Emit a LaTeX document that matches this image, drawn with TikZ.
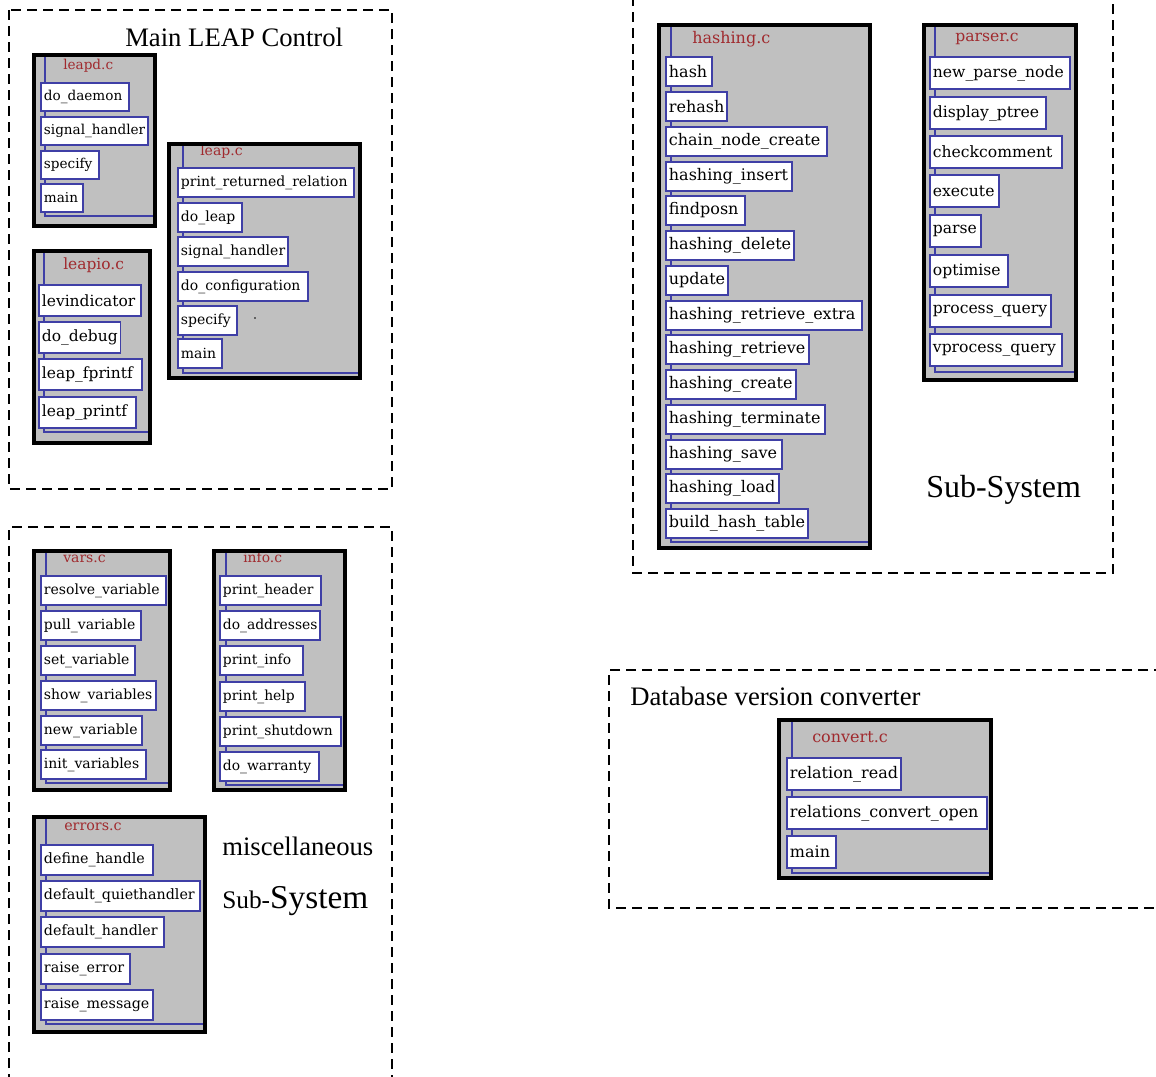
\documentclass[tikz,border=0pt]{standalone}
\usepackage{fontspec}
\setmainfont{Liberation Serif}
\newfontfamily\fnfont{DejaVu Serif}
\definecolor{modgray}{HTML}{C0C0C0}
\definecolor{fnblue}{HTML}{3F3FA6}
\definecolor{titlered}{HTML}{A02A2E}
\newcommand\mfs{10pt}
\newcommand\fnb[5]{\node[fnbox, minimum height=#4*0.75pt] (#1) at (#2) {\sbox0{\hskip2.2pt #5\hskip2pt}\ifdim\wd0<\dimexpr0.75pt*#3\relax\hbox to \dimexpr0.75pt*#3\relax{\unhcopy0\hss}\else\usebox0\fi};}
\newcommand\modfill[5]{\node[modfill, minimum width=(#4-#2)*0.75pt, minimum height=(#5-#3)*0.75pt] (#1) at (#2,#3) {};}
\newcommand\modborder[1]{\draw[modborder] ([shift={(2,2)}]#1.north west) rectangle ([shift={(-2,-2)}]#1.south east);}
\tikzset{
  modfill/.style={fill=modgray, draw=none, inner sep=0pt, outer sep=0pt, anchor=north west},
  modborder/.style={draw=black, line width=3pt},
  bluel/.style={draw=fnblue, line width=1.1pt},
  fnbox/.style={draw=fnblue, line width=1.2pt, fill=white, inner sep=0pt, outer sep=0pt, anchor=north west, font=\fnfont\fontsize{\mfs}{\mfs}\selectfont},
  ftitle/.style={text=titlered, inner sep=0pt, anchor=base west, font=\fnfont\fontsize{\mfs}{\mfs}\selectfont},
  frame/.style={draw=black, line width=1.3pt, dash pattern=on 7.5pt off 4.5pt},
  bigtext/.style={inner sep=0pt, anchor=base west, font=\fontsize{20pt}{24pt}\selectfont},
}
\begin{document}
\begin{tikzpicture}[x=0.75pt,y=-0.75pt]
\useasboundingbox (0,0) rectangle (1156,1076);
\clip (0,0) rectangle (1156,1076);
\fill[white] (0,0) rectangle (1156,1076);

% ---------- frames ----------
\draw[frame] (9,10) rectangle (392,489);
\draw[frame] (9,1100) -- (9,527) -- (392,527) -- (392,1100);
\draw[frame] (633,-20) -- (633,573) -- (1113,573) -- (1113,-20);
\draw[frame] (1180,670) -- (609,670) -- (609,908) -- (1180,908);

% ---------- frame labels ----------
\node[bigtext] (lbmain) at (125,46) {Main LEAP Control};
\node[bigtext] (lbdb) at (630,705) {Database version converter};
\node[bigtext, font=\fontsize{24pt}{28pt}\selectfont] (lbsub) at (926,497) {Sub-System};
\node[bigtext] (lbmisc) at (222,855) {miscellaneous};
\node[bigtext] (lbsub2) at (222,908) {\fontsize{19pt}{24pt}\selectfont Sub-\fontsize{25pt}{28pt}\selectfont System};

% ---------- leapd.c ----------
\renewcommand\mfs{10.2pt}
\modfill{leapd}{32}{53}{157}{228}
\draw[bluel] (45,55) -- (45,216) -- (157,216);
\node[ftitle] (leapdt) at (63,69) {leapd.c};
\fnb{ld1}{41,83}{88}{28}{do\_daemon}
\fnb{ld2}{41,117}{107}{28}{signal\_handler}
\fnb{ld3}{41,151}{58}{28}{specify}
\fnb{ld4}{41,184}{42}{28}{main}
\modborder{leapd}

% ---------- leap.c ----------
\renewcommand\mfs{10.5pt}
\modfill{leap}{167}{142}{362}{380}
\draw[bluel] (183,144) -- (183,373) -- (362,373);
\node[ftitle] (leapt) at (200,155) {leap.c};
\fnb{lp1}{178,168}{176}{29}{print\_returned\_relation}
\fnb{lp2}{178,203}{64}{29}{do\_leap}
\fnb{lp3}{178,237}{110}{29}{signal\_handler}
\fnb{lp4}{178,272}{130}{29}{do\_configuration}
\fnb{lp5}{178,306}{59}{29}{specify}
\fnb{lp6}{178,339}{44}{29}{main}
\fill[black] (255,318) circle (0.8);
\modborder{leap}

% ---------- leapio.c ----------
\renewcommand\mfs{11.6pt}
\modfill{leapio}{32}{249}{152}{445}
\draw[bluel] (44,251) -- (44,432) -- (152,432);
\node[ftitle] (leapiot) at (63,269) {leapio.c};
\fnb{li1}{39,285}{102}{31}{levindicator}
\fnb{li2}{39,322}{80}{31}{do\_debug}
\fnb{li3}{39,359}{103}{31}{leap\_fprintf}
\fnb{li4}{39,397}{97}{31}{leap\_printf}
\modborder{leapio}

% ---------- vars.c ----------
\renewcommand\mfs{10.5pt}
\modfill{vars}{32}{549}{172}{792}
\draw[bluel] (46,551) -- (46,783) -- (172,783);
\node[ftitle] (varst) at (63,562) {vars.c};
\fnb{va1}{41,576}{125}{29}{resolve\_variable}
\fnb{va2}{41,611}{100}{29}{pull\_variable}
\fnb{va3}{41,646}{94}{29}{set\_variable}
\fnb{va4}{41,681}{115}{29}{show\_variables}
\fnb{va5}{41,716}{101}{29}{new\_variable}
\fnb{va6}{41,750}{105}{29}{init\_variables}
\modborder{vars}

% ---------- info.c ----------
\renewcommand\mfs{10.4pt}
\modfill{info}{212}{549}{347}{792}
\draw[bluel] (226,551) -- (226,785) -- (347,785);
\node[ftitle] (infot) at (243,562) {info.c};
\fnb{in1}{220,576}{101}{29}{print\_header}
\fnb{in2}{220,611}{98}{29}{do\_addresses}
\fnb{in3}{220,646}{83}{29}{print\_info}
\fnb{in4}{220,682}{85}{29}{print\_help}
\fnb{in5}{220,717}{121}{29}{print\_shutdown}
\fnb{in6}{220,752}{99}{29}{do\_warranty}
\modborder{info}

% ---------- errors.c ----------
\renewcommand\mfs{10.7pt}
\modfill{errors}{32}{815}{207}{1034}
\draw[bluel] (46,817) -- (46,1024) -- (207,1024);
\node[ftitle] (errorst) at (64,830) {errors.c};
\fnb{er1}{41,845}{112}{30}{define\_handle}
\fnb{er2}{41,881}{159}{30}{default\_quiethandler}
\fnb{er3}{41,917}{123}{30}{default\_handler}
\fnb{er4}{41,954}{89}{30}{raise\_error}
\fnb{er5}{41,990}{112}{30}{raise\_message}
\modborder{errors}

% ---------- hashing.c ----------
\renewcommand\mfs{12pt}
\modfill{hashing}{657}{23}{872}{550}
\draw[bluel] (671,25) -- (671,542) -- (872,542);
\node[ftitle] (hashingt) at (692,43) {hashing.c};
\fnb{ha1}{666,57}{46}{29}{hash}
\fnb{ha2}{666,92}{61}{29}{rehash}
\fnb{ha3}{666,127}{161}{29}{chain\_node\_create}
\fnb{ha4}{666,162}{126}{29}{hashing\_insert}
\fnb{ha5}{666,196}{79}{29}{findposn}
\fnb{ha6}{666,231}{128}{29}{hashing\_delete}
\fnb{ha7}{666,266}{62}{29}{update}
\fnb{ha8}{666,301}{196}{29}{hashing\_retrieve\_extra}
\fnb{ha9}{666,335}{143}{29}{hashing\_retrieve}
\fnb{ha10}{666,370}{130}{29}{hashing\_create}
\fnb{ha11}{666,405}{159}{29}{hashing\_terminate}
\fnb{ha12}{666,440}{116}{29}{hashing\_save}
\fnb{ha13}{666,474}{113}{29}{hashing\_load}
\fnb{ha14}{666,509}{142}{29}{build\_hash\_table}
\modborder{hashing}

% ---------- parser.c ----------
\renewcommand\mfs{11.7pt}
\modfill{parser}{922}{23}{1078}{382}
\draw[bluel] (935,25) -- (935,372) -- (1078,372);
\node[ftitle] (parsert) at (955,41) {parser.c};
\fnb{pa1}{930,57}{140}{32}{new\_parse\_node}
\fnb{pa2}{930,97}{116}{32}{display\_ptree}
\fnb{pa3}{930,136}{132}{32}{checkcomment}
\fnb{pa4}{930,175}{69}{32}{execute}
\fnb{pa5}{930,215}{51}{32}{parse}
\fnb{pa6}{930,255}{78}{32}{optimise}
\fnb{pa7}{930,295}{121}{32}{process\_query}
\fnb{pa8}{930,334}{132}{32}{vprocess\_query}
\modborder{parser}

% ---------- convert.c ----------
\renewcommand\mfs{12pt}
\modfill{convert}{777}{718}{993}{880}
\draw[bluel] (792,720) -- (792,873) -- (993,873);
\node[ftitle] (convertt) at (812,742) {convert.c};
\fnb{co1}{787,758}{114}{32}{relation\_read}
\fnb{co2}{787,797}{200}{32}{relations\_convert\_open}
\fnb{co3}{787,836}{49}{32}{main}
\modborder{convert}
\end{tikzpicture}
\end{document}
